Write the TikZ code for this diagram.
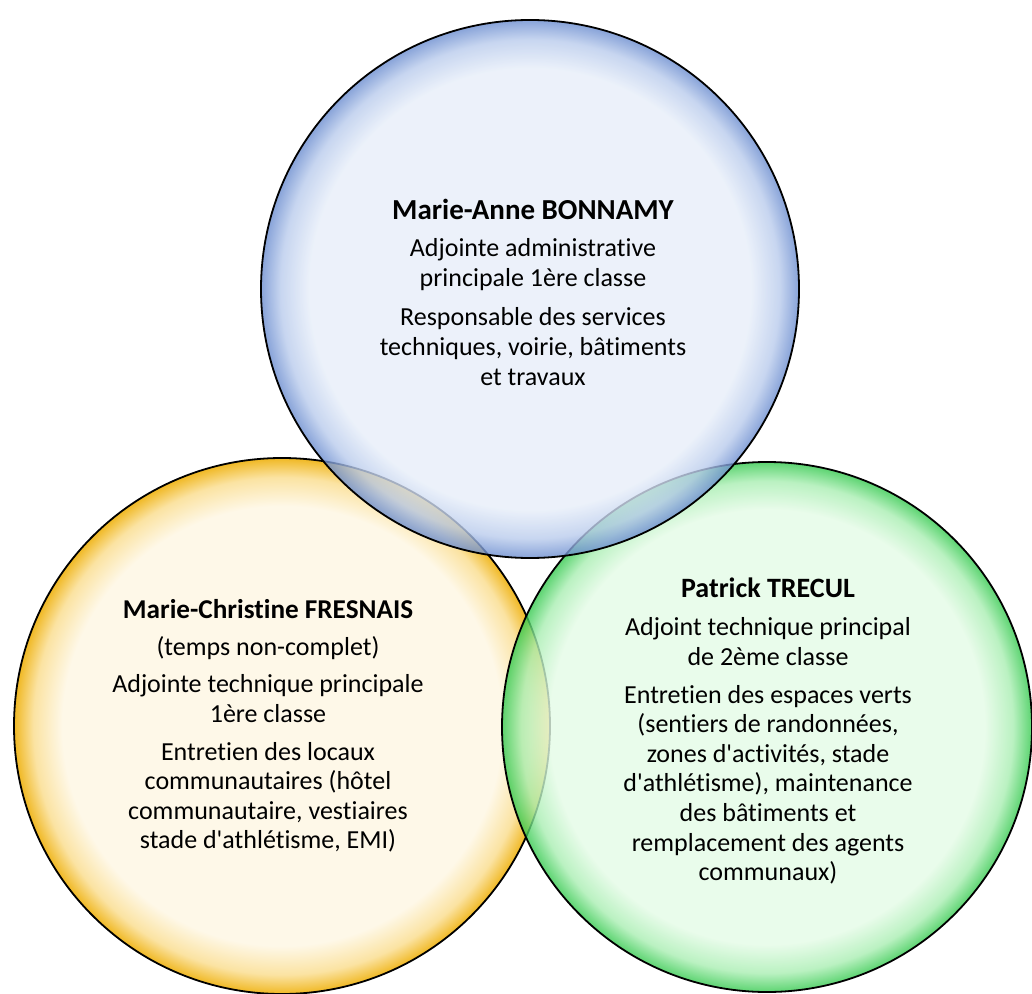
\documentclass[tikz,border=0pt]{standalone}
\usepackage{fontspec}
\newfontfamily\calfont{Carlito}[Ligatures={NoCommon}]
\definecolor{bluein}{HTML}{E7EEF9}
\definecolor{bluemid}{HTML}{B9CBEC}
\definecolor{blueedge}{HTML}{6A8CCF}
\definecolor{yelin}{HTML}{FEF8E8}
\definecolor{yelmid}{HTML}{FBE3A2}
\definecolor{yeledge}{HTML}{F0B823}
\definecolor{grein}{HTML}{E4FBE6}
\definecolor{gremid}{HTML}{A9EEB2}
\definecolor{greedge}{HTML}{34C94E}
\pgfdeclareradialshading{blueshade}{\pgfpoint{0bp}{0bp}}{color(0bp)=(bluein); color(20.5bp)=(bluein); color(23.2bp)=(bluemid); color(25bp)=(blueedge); color(50bp)=(blueedge)}
\pgfdeclareradialshading{yelshade}{\pgfpoint{0bp}{0bp}}{color(0bp)=(yelin); color(20.5bp)=(yelin); color(23.2bp)=(yelmid); color(25bp)=(yeledge); color(50bp)=(yeledge)}
\pgfdeclareradialshading{greshade}{\pgfpoint{0bp}{0bp}}{color(0bp)=(grein); color(20.5bp)=(grein); color(23.2bp)=(gremid); color(25bp)=(greedge); color(50bp)=(greedge)}
\newcommand{\ttl}[2][14]{{\fontsize{#1}{15}\selectfont\bfseries #2}}
\tikzset{
  bubble/.style={circle, inner sep=0pt, draw=black, line width=0.9pt, shade},
  info/.style={align=center, font=\calfont\fontsize{13}{14.8}\selectfont, text=black, inner sep=0pt}
}
\begin{document}
\begin{tikzpicture}[x=0.5pt,y=-0.5pt]
\useasboundingbox (0,0) rectangle (1032,994);
\node[bubble, shading=yelshade, minimum size=268pt] (yel) at (282,726) {};
\node[bubble, shading=greshade, minimum size=265pt, fill opacity=0.8] (gre) at (767,727) {};
\node[bubble, shading=blueshade, minimum size=269pt, fill opacity=0.8] (blu) at (530,289) {};
\node[info] (tblu) at (533,292) {\ttl[14.5]{Marie-Anne BONNAMY}\\[4pt]
Adjointe administrative\\principale 1ère classe\\[5pt]
Responsable des services\\techniques, voirie, bâtiments\\et travaux};
\node[info] (tyel) at (268,726) {\ttl[13.6]{Marie-Christine FRESNAIS}\\[3.5pt]
(temps non-complet)\\[4pt]
Adjointe technique principale\\1ère classe\\[4pt]
Entretien des locaux\\communautaires (hôtel\\communautaire, vestiaires\\stade d'athlétisme, EMI)};
\node[info] (tgre) at (768,731) {\ttl{Patrick TRECUL}\\[4.5pt]
Adjoint technique principal\\de 2ème classe\\[4pt]
Entretien des espaces verts\\(sentiers de randonnées,\\zones d'activités, stade\\d'athlétisme), maintenance\\des bâtiments et\\remplacement des agents\\communaux)};
\end{tikzpicture}
\end{document}
